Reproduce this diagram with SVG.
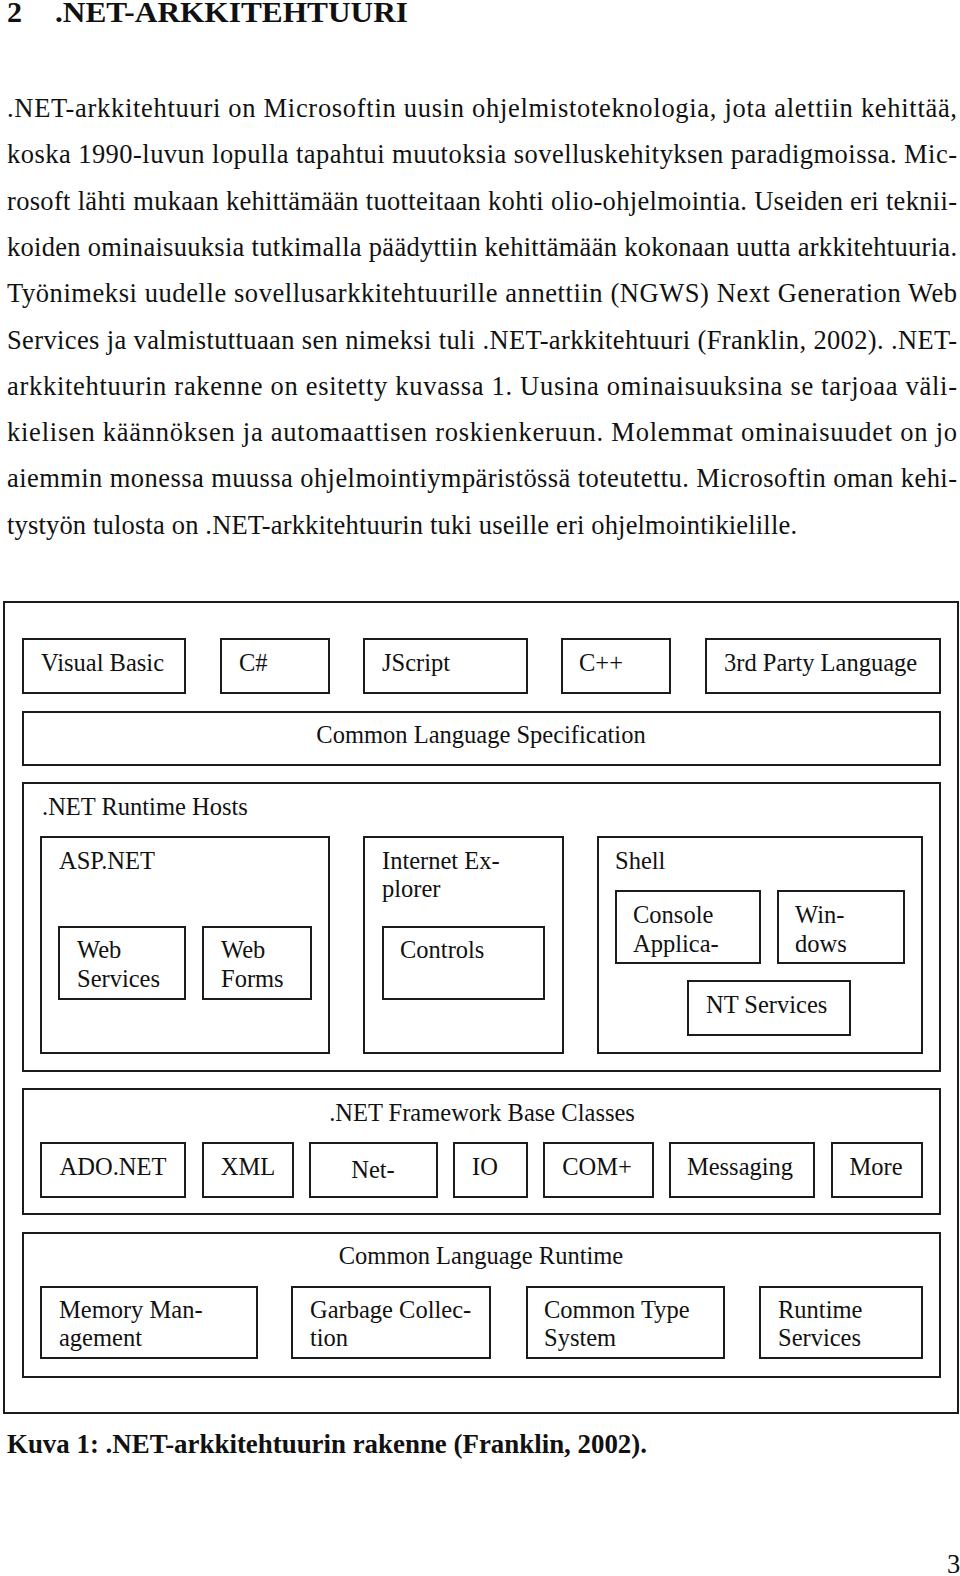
<svg xmlns="http://www.w3.org/2000/svg" width="960" height="1576" viewBox="0 0 960 1576">
<style>
text{font-family:"Liberation Serif","Times New Roman",serif;fill:#111}
.h{font-size:30px;font-weight:bold}
.p{font-size:26.5px}
.cap{font-size:26.5px;font-weight:bold}
.d{font-size:24.5px}
.c{text-anchor:middle}
rect{fill:none;stroke:#1c1c1c;stroke-width:2}
</style>
<rect x="0" y="0" width="960" height="1576" style="fill:#fff;stroke:none"/>
<g id="heading">
<text class="h" x="7" y="22">2</text>
<text class="h" x="55" y="22" textLength="353" lengthAdjust="spacingAndGlyphs">.NET-ARKKITEHTUURI</text>
</g>
<g id="body">
<text class="p" x="7" y="117" textLength="950" lengthAdjust="spacing">.NET-arkkitehtuuri on Microsoftin uusin ohjelmistoteknologia, jota alettiin kehittää,</text>
<text class="p" x="7" y="163.3" textLength="950" lengthAdjust="spacing">koska 1990-luvun lopulla tapahtui muutoksia sovelluskehityksen paradigmoissa. Mic-</text>
<text class="p" x="7" y="209.6" textLength="950" lengthAdjust="spacing">rosoft lähti mukaan kehittämään tuotteitaan kohti olio-ohjelmointia. Useiden eri teknii-</text>
<text class="p" x="7" y="255.9" textLength="950" lengthAdjust="spacing">koiden ominaisuuksia tutkimalla päädyttiin kehittämään kokonaan uutta arkkitehtuuria.</text>
<text class="p" x="7" y="302.2" textLength="950" lengthAdjust="spacing">Työnimeksi uudelle sovellusarkkitehtuurille annettiin (NGWS) Next Generation Web</text>
<text class="p" x="7" y="348.5" textLength="950" lengthAdjust="spacing">Services ja valmistuttuaan sen nimeksi tuli .NET-arkkitehtuuri (Franklin, 2002). .NET-</text>
<text class="p" x="7" y="394.8" textLength="950" lengthAdjust="spacing">arkkitehtuurin rakenne on esitetty kuvassa 1. Uusina ominaisuuksina se tarjoaa väli-</text>
<text class="p" x="7" y="441.1" textLength="950" lengthAdjust="spacing">kielisen käännöksen ja automaattisen roskienkeruun. Molemmat ominaisuudet on jo</text>
<text class="p" x="7" y="487.4" textLength="950" lengthAdjust="spacing">aiemmin monessa muussa ohjelmointiympäristössä toteutettu. Microsoftin oman kehi-</text>
<text class="p" x="7" y="533.7" textLength="790" lengthAdjust="spacing">tystyön tulosta on .NET-arkkitehtuurin tuki useille eri ohjelmointikielille.</text>
</g>
<g id="frame"><rect x="4" y="602" width="954" height="811"/></g>
<g id="visual-basic"><rect x="23" y="639" width="162" height="54"/><text class="d" x="41" y="671">Visual Basic</text></g>
<g id="csharp"><rect x="221" y="639" width="108" height="54"/><text class="d" x="239" y="671">C#</text></g>
<g id="jscript"><rect x="364" y="639" width="163" height="54"/><text class="d" x="382" y="671">JScript</text></g>
<g id="cpp"><rect x="562" y="639" width="108" height="54"/><text class="d" x="579" y="671">C++</text></g>
<g id="third-party"><rect x="706" y="639" width="234" height="54"/><text class="d" x="724" y="671">3rd Party Language</text></g>
<g id="cls"><rect x="23" y="712" width="917" height="53"/><text class="d c" x="481" y="743">Common Language Specification</text></g>
<g id="runtime-hosts"><rect x="23" y="783" width="917" height="288"/><text class="d" x="42" y="815">.NET Runtime Hosts</text></g>
<g id="aspnet"><rect x="41" y="837" width="288" height="216"/><text class="d" x="59" y="869">ASP.NET</text></g>
<g id="web-services"><rect x="59" y="927" width="126" height="72"/><text class="d" x="77" y="958">Web</text><text class="d" x="77" y="987">Services</text></g>
<g id="web-forms"><rect x="203" y="927" width="108" height="72"/><text class="d" x="221" y="958">Web</text><text class="d" x="221" y="987">Forms</text></g>
<g id="internet-explorer"><rect x="364" y="837" width="199" height="216"/><text class="d" x="382" y="869">Internet Ex-</text><text class="d" x="382" y="897">plorer</text></g>
<g id="controls"><rect x="383" y="927" width="161" height="72"/><text class="d" x="400" y="958">Controls</text></g>
<g id="shell"><rect x="598" y="837" width="324" height="216"/><text class="d" x="615" y="869">Shell</text></g>
<g id="console-app"><rect x="616" y="891" width="144" height="72"/><text class="d" x="633" y="923">Console</text><text class="d" x="633" y="952">Applica-</text></g>
<g id="windows"><rect x="778" y="891" width="126" height="72"/><text class="d" x="795" y="923">Win-</text><text class="d" x="795" y="952">dows</text></g>
<g id="nt-services"><rect x="688" y="981" width="162" height="54"/><text class="d" x="706" y="1013">NT Services</text></g>
<g id="base-classes"><rect x="23" y="1089" width="917" height="125"/><text class="d c" x="482" y="1121">.NET Framework Base Classes</text></g>
<g id="adonet"><rect x="41" y="1143" width="144" height="54"/><text class="d c" x="113" y="1175">ADO.NET</text></g>
<g id="xml"><rect x="203" y="1143" width="90" height="54"/><text class="d c" x="248" y="1175">XML</text></g>
<g id="net"><rect x="310" y="1143" width="127" height="54"/><text class="d c" x="373" y="1178">Net-</text></g>
<g id="io"><rect x="454" y="1143" width="73" height="54"/><text class="d c" x="485" y="1175">IO</text></g>
<g id="complus"><rect x="544" y="1143" width="109" height="54"/><text class="d c" x="597" y="1175">COM+</text></g>
<g id="messaging"><rect x="670" y="1143" width="144" height="54"/><text class="d c" x="740" y="1175">Messaging</text></g>
<g id="more"><rect x="832" y="1143" width="90" height="54"/><text class="d c" x="876" y="1175">More</text></g>
<g id="clr"><rect x="23" y="1233" width="917" height="144"/><text class="d c" x="481" y="1264">Common Language Runtime</text></g>
<g id="memory"><rect x="41" y="1287" width="216" height="71"/><text class="d" x="59" y="1318">Memory Man-</text><text class="d" x="59" y="1346">agement</text></g>
<g id="garbage"><rect x="292" y="1287" width="198" height="71"/><text class="d" x="310" y="1318">Garbage Collec-</text><text class="d" x="310" y="1346">tion</text></g>
<g id="cts"><rect x="527" y="1287" width="197" height="71"/><text class="d" x="544" y="1318">Common Type</text><text class="d" x="544" y="1346">System</text></g>
<g id="runtime-services"><rect x="760" y="1287" width="162" height="71"/><text class="d" x="778" y="1318">Runtime</text><text class="d" x="778" y="1346">Services</text></g>
<g id="caption"><text class="cap" x="7" y="1453" textLength="640" lengthAdjust="spacingAndGlyphs">Kuva 1: .NET-arkkitehtuurin rakenne (Franklin, 2002).</text></g>
<g id="page-number"><text class="p" x="947" y="1573">3</text></g>
</svg>
